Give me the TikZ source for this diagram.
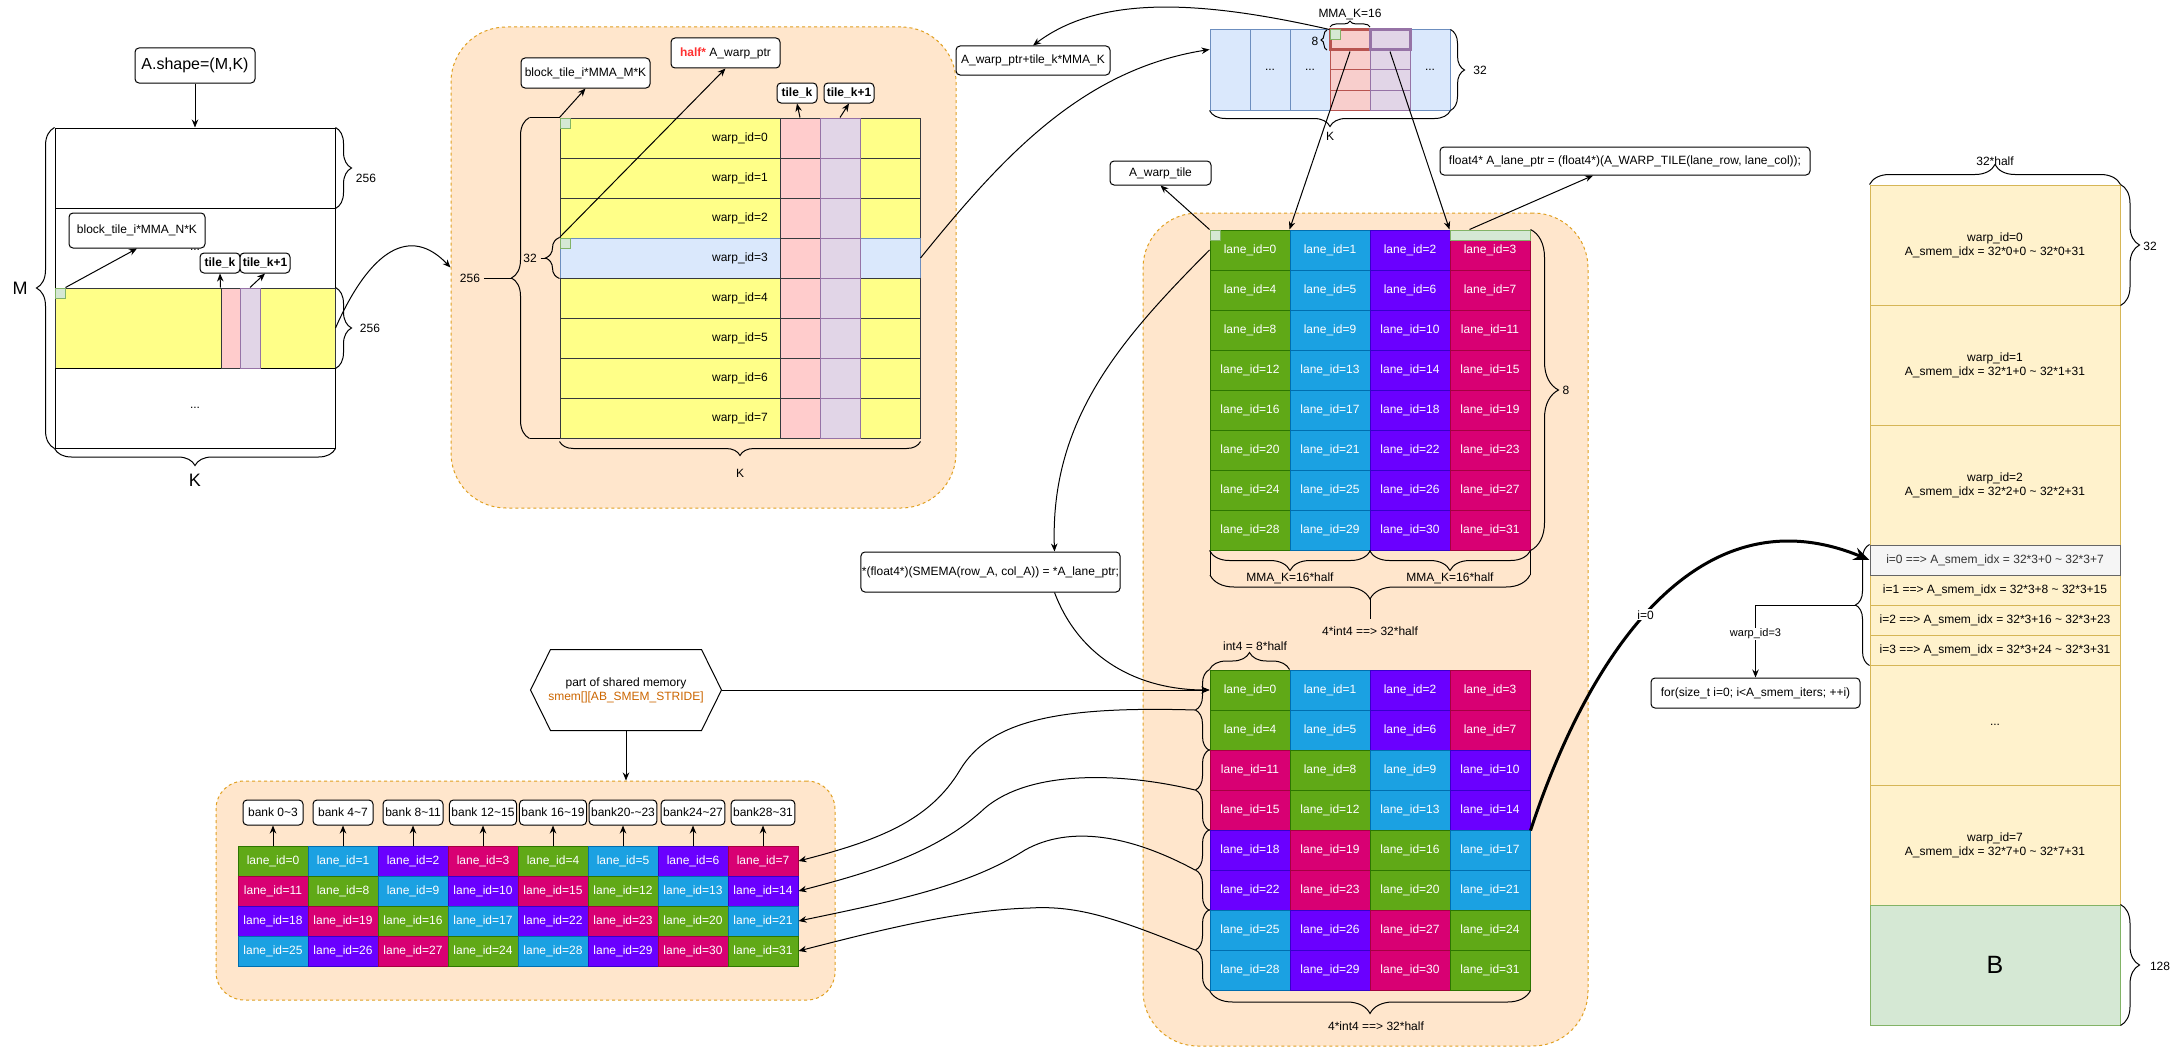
\documentclass[tikz,border=0pt]{standalone}
\usepackage{fontspec}
\setmainfont{Liberation Sans}
\tikzset{node distance=2cm, auto}
\usetikzlibrary{arrows.meta}
\usetikzlibrary{positioning, calc, decorations.pathreplacing}

\definecolor{yel}{HTML}{FFFF88}
\definecolor{yelline}{HTML}{36393D}
\definecolor{pnk}{HTML}{FFCCCC}
\definecolor{lav}{HTML}{E1D5E7}
\definecolor{lavline}{HTML}{9673A6}
\definecolor{lblue}{HTML}{DAE8FC}
\definecolor{lblueline}{HTML}{6C8EBF}
\definecolor{lgrn}{HTML}{D5E8D4}
\definecolor{lgrnline}{HTML}{82B366}
\definecolor{orgfill}{HTML}{FFE6CC}
\definecolor{orgline}{HTML}{E0A020}
\definecolor{tpnk}{HTML}{F8CECC}
\definecolor{tpnkline}{HTML}{B85450}
\definecolor{smemfill}{HTML}{FFF2CC}
\definecolor{smemline}{HTML}{D6B656}
\definecolor{gryfill}{HTML}{F5F5F5}
\definecolor{gryline}{HTML}{666666}
\definecolor{grytext}{HTML}{333333}
\definecolor{halfred}{HTML}{FF3333}
\definecolor{smemtxt}{HTML}{CC6600}
% lane colours, picked by lane_id mod 4
\definecolor{lanef0}{HTML}{60A917}\definecolor{laned0}{HTML}{2D7600}
\definecolor{lanef1}{HTML}{1BA1E2}\definecolor{laned1}{HTML}{006EAF}
\definecolor{lanef2}{HTML}{6A00FF}\definecolor{laned2}{HTML}{3700CC}
\definecolor{lanef3}{HTML}{D80073}\definecolor{laned3}{HTML}{A50040}

\newcommand{\fs}{\fontsize{12}{14}\selectfont}

\begin{document}
\begin{tikzpicture}[x=1pt,y=-1pt,line width=1pt,font=\fs,>={Stealth[length=8pt,width=6.5pt]}]
\tikzset{
  box/.style={draw, fill=white, rounded corners=4pt, inner sep=2pt, align=center},
  region/.style={draw=orgline, fill=orgfill, dashed, dash pattern=on 3pt off 3pt, rounded corners=#1},
  rowcell/.style={minimum width=360pt, minimum height=40pt, inner sep=0pt},
  pcell/.style={draw=yelline, fill=pnk, minimum width=40pt, minimum height=#1, inner sep=0pt},
  lcell/.style={draw=lavline, fill=lav, minimum width=40pt, minimum height=#1, inner sep=0pt},
  gsq/.style={draw=lgrnline, fill=lgrn, minimum width=10pt, minimum height=10pt, inner sep=0pt},
  lane/.style={draw=laned#1, fill=lanef#1, text=white, minimum width=80pt, minimum height=40pt, inner sep=0pt},
  smem/.style={draw=smemline, fill=smemfill, minimum width=250pt, minimum height=#1, inner sep=0pt, align=center},
  brc/.style={decorate, decoration={brace, amplitude=#1}},
  big/.style={font=\fontsize{18}{21}\selectfont},
}

\useasboundingbox (0,0) rectangle (2181,1049);
\fill[white] (0,0) rectangle (2181,1049);

% background regions
\node[region=55pt, minimum width=505pt, minimum height=481pt] (reg1) at (703.5,267.5) {};
\node[region=55pt, minimum width=445pt, minimum height=833pt] (reg2) at (1365.5,629.5) {};
\node[region=28pt, minimum width=619pt, minimum height=219pt] (reg3) at (525.5,890.5) {};

% matrix A
\node[box, font=\fontsize{16}{19}\selectfont, minimum width=120pt, minimum height=35pt] (ashape) at (195,65.5) {A.shape=(M,K)};
\node[draw, minimum width=280pt, minimum height=80pt] (ma1) at (195,168) {};
\node[draw, minimum width=280pt, minimum height=80pt] (ma2) at (195,248) {};
\node[draw=yelline, fill=yel, minimum width=280pt, minimum height=80pt] (ma3) at (195,328) {};
\node[draw, minimum width=280pt, minimum height=80pt] (ma4) at (195,408) {...};
\node[pcell=80pt, minimum width=19pt] (apk) at (230.5,328) {};
\node[lcell=80pt, minimum width=20pt] (alv) at (250,328) {};
\node[gsq] (agq) at (60,293) {};
\node[box, minimum width=136pt, minimum height=35pt] (abt) at (137,230.5) {block\_tile\_i*MMA\_N*K};
\node (adots) at (195,250) {...};
\node[box, font=\fs\bfseries, minimum width=40pt, minimum height=20pt, inner sep=1pt] (atk) at (220,263) {tile\_k};
\node[box, font=\fs\bfseries, minimum width=50pt, minimum height=20pt, inner sep=1pt] (atk1) at (265,263) {tile\_k+1};

\draw[brc=18pt] (ma4.south west) -- (ma1.north west);
\draw[brc=16pt] (ma1.north east) -- (ma1.south east);
\draw[brc=16pt] (ma3.north east) -- (ma3.south east);
\draw[brc=17pt] (ma4.south east) -- (ma4.south west);
\node[big] (lm) at (20,288) {M};
\node (la256a) at (366,178) {256};
\node (la256b) at (370,328) {256};
\node[big] (lak) at (195,480) {K};

% warp tile of one block
\foreach \r/\fc/\dc in {0/yel/yelline,1/yel/yelline,2/yel/yelline,3/lblue/lblueline,4/yel/yelline,5/yel/yelline,6/yel/yelline,7/yel/yelline}{
  \node[rowcell, draw=\dc, fill=\fc] (wr\r) at (740,138+40*\r) {warp\_id=\r};
  \node[pcell=40pt] (wp\r) at (800,138+40*\r) {};
  \node[lcell=40pt] (wl\r) at (840,138+40*\r) {};
}
\node[gsq] (wgq0) at (565,123) {};
\node[gsq] (wgq3) at (565,243) {};
\node[box, minimum width=129pt, minimum height=30pt] (wbt) at (585.5,73) {block\_tile\_i*MMA\_M*K};
\node[box, minimum width=109pt, minimum height=30pt] (wptr) at (725.5,53) {\textcolor{halfred}{\bfseries half*} A\_warp\_ptr};
\node[box, font=\fs\bfseries, minimum width=40pt, minimum height=20pt, inner sep=1pt] (wtk) at (797,93) {tile\_k};
\node[box, font=\fs\bfseries, minimum width=50pt, minimum height=20pt, inner sep=1pt] (wtk1) at (849,93) {tile\_k+1};

\draw (wr0.north west) -- ++(-30,0) coordinate (wbt0);
\draw (wr7.south west) -- ++(-30,0) coordinate (wbt1);
\draw[brc=18pt] (wbt1) -- (wbt0);
\coordinate (wtip) at (512,278);
\node (lw256) at (470,278) {256};
\draw (lw256) -- (wtip);
\draw[brc=14pt] (wr3.south west) -- (wr3.north west);
\coordinate (w32tip) at (546,258);
\node (lw32) at (530,258) {32};
\draw (lw32) -- (w32tip);
\draw[brc=14pt] ($(wr7.south east)+(0,3)$) -- ($(wr7.south west)+(0,3)$);
\node (lwk) at (740,473) {K};

% tile in the top
\node[draw=lblueline, fill=lblue, minimum width=40pt, minimum height=80pt] (tm0) at (1230,70) {};
\node[draw=lblueline, fill=lblue, minimum width=40pt, minimum height=80pt] (tm1) at (1270,70) {...};
\node[draw=lblueline, fill=lblue, minimum width=40pt, minimum height=80pt] (tm2) at (1310,70) {...};
\node[draw=lblueline, fill=lblue, minimum width=40pt, minimum height=80pt] (tm5) at (1430,70) {...};
\foreach \r in {1,2,3}{
  \node[draw=tpnkline, fill=tpnk, minimum width=40pt, minimum height=20pt, inner sep=0pt] (tp\r) at (1350,40+20*\r) {};
  \node[draw=lavline, fill=lav, minimum width=40pt, minimum height=20pt, inner sep=0pt] (tl\r) at (1390,40+20*\r) {};
}
\node[draw=tpnkline, fill=tpnk, line width=3pt, minimum width=40pt, minimum height=20pt, inner sep=0pt] (tp0) at (1350,40) {};
\node[draw=lavline, fill=lav, line width=3pt, minimum width=40pt, minimum height=20pt, inner sep=0pt] (tl0) at (1390,40) {};
\node[gsq] (tgq) at (1335,35) {};

\draw[brc=6pt] (1330,27) -- (1370,27);
\node (ltk) at (1350,15) {MMA\_K=16};
\draw[brc=6pt] (1327,50) -- (1327,30);
\node (lt8) at (1315,41) {8};
\draw[brc=14pt] (tm5.north east) -- (tm5.south east);
\node (lt32) at (1480,70) {32};
\draw[brc=16pt] (tm5.south east) -- (tm0.south west);
\node (ltkk) at (1330,136) {K};

\node[box, minimum width=154pt, minimum height=29pt] (wptrk) at (1033,60.5) {A\_warp\_ptr+tile\_k*MMA\_K};
\node[box, minimum width=101pt, minimum height=24pt] (wtile) at (1160.5,173) {A\_warp\_tile};
\node[box, minimum width=370pt, minimum height=28pt] (lptr) at (1625,161) {float4* A\_lane\_ptr = (float4*)(A\_WARP\_TILE(lane\_row, lane\_col));};
\node[box, minimum width=259pt, minimum height=40pt, inner sep=1pt] (smema) at (990.5,572) {*(float4*)(SMEMA(row\_A, col\_A)) = *A\_lane\_ptr;};

% lanes of the warp tile
\foreach \r in {0,...,7}
  \foreach \c in {0,...,3}{
    \pgfmathtruncatemacro\laneid{4*\r+\c}
    \node[lane=\c] (ta-\r-\c) at (1250+80*\c,250+40*\r) {lane\_id=\laneid};
  }
\node[gsq] (lgq) at (1215,235) {};
\node[gsq, minimum width=80pt] (lbar) at (1490,235) {};
\draw[brc=28pt] (ta-0-3.north east) -- (ta-7-3.south east);
\node (ll8) at (1566,390) {8};
\draw[brc=20pt] (ta-7-1.south east) -- (ta-7-0.south west);
\draw[brc=20pt] (ta-7-3.south east) -- (ta-7-2.south west);
\node (lmk0) at (1290,578) {MMA\_K=16*half};
\node (lmk1) at (1450,578) {MMA\_K=16*half};
\draw (1210,551) -- (1210,575);
\draw (1530,551) -- (1530,575);
\draw[brc=24pt] (1530,575) -- (1210,575);
\coordinate (bigtip) at (1370,599);
\coordinate (bigend) at (1370,619);
\draw (bigtip) -- (bigend);
\node (l32a) at (1370,631) {4*int4 ==> 32*half};

% lanes after the swizzle
\foreach \r in {0,...,7}
  \foreach \c in {0,...,3}{
    \pgfmathtruncatemacro\shft{\r/2}
    \pgfmathtruncatemacro\colid{mod(\c-\shft+4,4)}
    \pgfmathtruncatemacro\laneid{4*\r+\colid}
    \ifnum\r=7 \pgfmathtruncatemacro\laneid{28+\c}\fi
    \node[lane=\colid] (tb-\r-\c) at (1250+80*\c,690+40*\r) {lane\_id=\laneid};
  }
\draw[brc=17pt] (tb-0-0.north west) -- (tb-0-1.north west);
\node (lint4) at (1255,646) {int4 = 8*half};
\draw[brc=23pt] (tb-7-3.south east) -- (tb-7-0.south west);
\node (l32b) at (1376,1026) {4*int4 ==> 32*half};
\foreach \k in {0,...,3}{
  \pgfmathtruncatemacro\ra{2*\k}
  \pgfmathtruncatemacro\rb{2*\k+1}
  \draw[brc=14pt] (tb-\rb-0.south west) -- (tb-\ra-0.north west);
  \coordinate (lb\k) at (1195,710+80*\k);
}

% shared memory banks
\node[minimum width=190pt, minimum height=80pt, inner sep=0pt, align=center] (hex) at (626,690) {part of shared memory\\\textcolor{smemtxt}{smem[][AB\_SMEM\_STRIDE]}};
\draw (hex.west) -- ($(hex.north west)+(20,0)$) -- ($(hex.north east)+(-20,0)$) -- (hex.east) -- ($(hex.south east)+(-20,0)$) -- ($(hex.south west)+(20,0)$) -- cycle;
\foreach \j/\txt in {0/bank 0\textasciitilde3,1/bank 4\textasciitilde7,2/bank 8\textasciitilde11,3/bank 12\textasciitilde15,4/bank 16\textasciitilde19,5/bank20-\textasciitilde23,6/bank24\textasciitilde27,7/bank28\textasciitilde31}
  \node[box, minimum width=60pt, minimum height=25pt] (bank\j) at (273+70*\j,812.5) {\txt};
\foreach \k in {0,...,3}
  \foreach \j in {0,...,7}{
    \pgfmathtruncatemacro\growid{2*\k+\j/4}
    \pgfmathtruncatemacro\colid{mod(\j-\k+8,4)}
    \pgfmathtruncatemacro\laneid{4*\growid+\colid}
    \ifnum\growid=7 \pgfmathtruncatemacro\laneid{24+\j}\fi
    \node[lane=\colid, minimum width=70pt, minimum height=30pt] (bk-\k-\j) at (273+70*\j,861+30*\k) {lane\_id=\laneid};
  }

% smem layout of A and B
\node[smem=120pt] (rw0) at (1995,245) {warp\_id=0\\A\_smem\_idx = 32*0+0 \textasciitilde{} 32*0+31};
\node[smem=120pt] (rw1) at (1995,365) {warp\_id=1\\A\_smem\_idx = 32*1+0 \textasciitilde{} 32*1+31};
\node[smem=120pt] (rw2) at (1995,485) {warp\_id=2\\A\_smem\_idx = 32*2+0 \textasciitilde{} 32*2+31};
\node[smem=30pt] (ri1) at (1995,590) {i=1 ==> A\_smem\_idx = 32*3+8 \textasciitilde{} 32*3+15};
\node[smem=30pt] (ri2) at (1995,620) {i=2 ==> A\_smem\_idx = 32*3+16 \textasciitilde{} 32*3+23};
\node[smem=30pt] (ri3) at (1995,650) {i=3 ==> A\_smem\_idx = 32*3+24 \textasciitilde{} 32*3+31};
\node[smem=30pt, draw=gryline, fill=gryfill, text=grytext] (ri0) at (1995,560) {i=0 ==> A\_smem\_idx = 32*3+0 \textasciitilde{} 32*3+7};
\node[smem=120pt] (rdots) at (1995,725) {...};
\node[smem=120pt] (rw7) at (1995,845) {warp\_id=7\\A\_smem\_idx = 32*7+0 \textasciitilde{} 32*7+31};
\node[smem=120pt, draw=lgrnline, fill=lgrn, font=\fontsize{25}{30}\selectfont] (rb) at (1995,965) {B};
\draw[brc=20pt] (rw0.north west) -- (rw0.north east);
\node (lr32h) at (1995,161) {32*half};
\draw[brc=19pt] (rw0.north east) -- (rw0.south east);
\node (lr32) at (2150,246) {32};
\draw[brc=19pt] (rb.north east) -- (rb.south east);
\node (lr128) at (2160,966) {128};
\draw[brc=14pt] (ri3.south west) -- (ri0.north west);
\coordinate (itip) at (1856,605);
\node[box, minimum width=209pt, minimum height=30pt] (forbox) at (1755.5,693) {for(size\_t i=0; i<A\_smem\_iters; ++i)};

% connectors
\draw[->] (ashape) -- (ma1.north);
\draw[->] (agq.north east) -- (abt.south);
\draw[->] (apk.north west) -- (atk.south);
\draw[->] (alv.north) -- (atk1.south);
\draw[->] (ma3.east) .. controls (370,250) and (410,225) .. (reg1.west);
\draw[->] (wgq0.north west) -- (wbt.south);
\draw[->] (wgq3.north west) -- (wptr.south);
\draw[->] (wp0.north) -- (wtk.south);
\draw[->] (wl0.north) -- (wtk1.south);
\draw[->] (wr3.east) .. controls (1000,160) and (1080,70) .. ($(tm0.north west)+(0,20)$);
\draw[->] (tgq.north west) .. controls (1200,0) and (1100,-5) .. (wptrk.north);
\draw[->] (tp0.south) -- (ta-0-1.north west);
\draw[->] (tl0.south) -- (ta-0-3.north west);
\draw[->] (ta-0-0.north west) -- (wtile.south);
\draw[->] ($(lbar.north west)+(20,0)$) -- ($(lptr.south)+(-32,0)$);
\draw[->] (ta-0-0.west) .. controls (1120,340) and (1050,420) .. ($(smema.north)+(64,0)$);
\draw[->] ($(smema.south)+(64,0)$) .. controls (1080,660) and (1140,690) .. (tb-0-0.west);
\draw[->] (hex.east) -- (tb-0-0.west);
\draw[->] (hex.south) -- (hex.south |- reg3.north);
\foreach \j in {0,...,7}
  \draw[->] (bk-0-\j.north) -- (bank\j.south);
\draw[->] (lb0) .. controls (1060,706) and (990,720) .. (960,770) .. controls (930,820) and (880,840) .. (bk-0-7.east);
\draw[->] (lb1) .. controls (1120,772) and (1030,770) .. (985,808) .. controls (940,850) and (880,870) .. (bk-1-7.east);
\draw[->] (lb2) .. controls (1130,835) and (1070,825) .. (1025,850) .. controls (970,885) and (900,900) .. (bk-2-7.east);
\draw[->] (lb3) .. controls (1120,920) and (1080,905) .. (1030,908) .. controls (960,910) and (880,930) .. (bk-3-7.east);
\draw[->] (itip) -| (forbox.north) node[pos=0.7, auto=false, fill=white, inner sep=1pt, font=\fontsize{11}{13}\selectfont] (lw3) {warp\_id=3};
\draw[line width=3pt, -{Stealth[length=16pt,width=13pt]}] (tb-3-3.south east) .. controls (1590,650) and (1700,490) .. (ri0.west) node[pos=0.46, auto=false, fill=white, inner sep=1pt] (li0) {i=0};
\end{tikzpicture}
\end{document}
